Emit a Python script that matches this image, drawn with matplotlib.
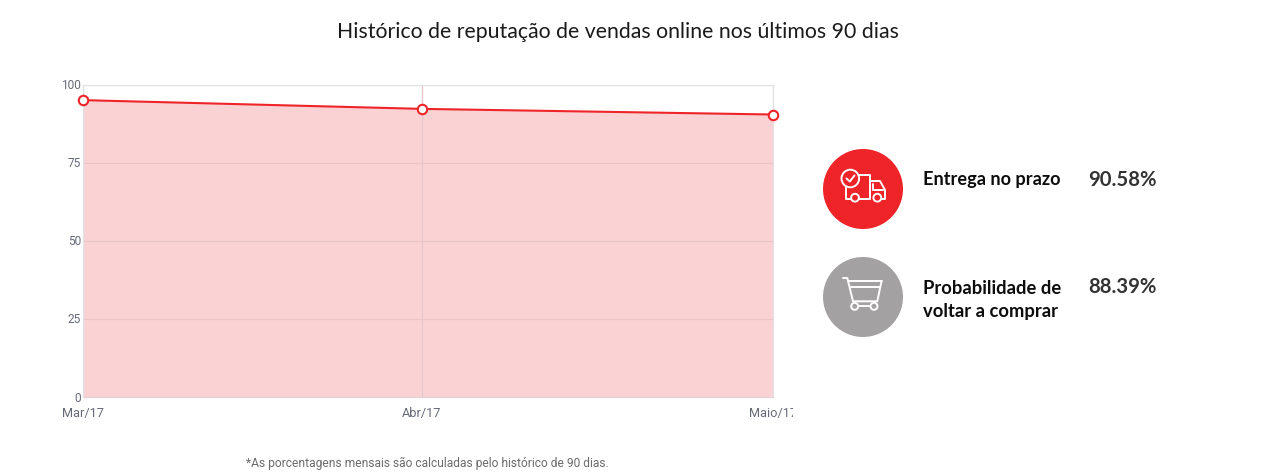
import matplotlib
matplotlib.use("Agg")
import matplotlib.pyplot as plt
from matplotlib.patches import Circle
from matplotlib.transforms import Bbox

W, H = 1264, 475

months = ["Mar/17", "Abr/17", "Maio/17"]
days = [0, 30, 61]
reputation = [95.0, 92.2, 90.4]
y_ticks = [0, 25, 50, 75, 100]
title = "Histórico de reputação de vendas online nos últimos 90 dias"
footnote = "*As porcentagens mensais são calculadas pelo histórico de 90 dias."
metric_labels = ["Entrega no prazo", "Probabilidade de\nvoltar a comprar"]
metric_values = ["90.58%", "88.39%"]

RED = "#ee2429"
GRAY = "#a3a1a2"

fig = plt.figure(figsize=(W / 100, H / 100), dpi=100, facecolor="white")

# chart axes
L, R, T, B = 82.5, 772.5, 84.5, 397
ax = fig.add_axes([L / W, 1 - B / H, (R - L) / W, (B - T) / H])
ax.set_xlim(days[0], days[-1])
ax.set_ylim(0, 100)
ax.fill_between(days, reputation, 0, color="#fad2d4", lw=0, zorder=1)
ax.set_yticks(y_ticks)
ax.set_xticks(days)
ax.grid(True, color="#e4e4e6", lw=0.9, zorder=0)
for yt in y_ticks[1:-1]:
    ax.axhline(yt, color="#eec3c6", lw=0.9, zorder=2)
ax.axvline(days[1], color="#e8c6cb", lw=0.9, zorder=2)
ax.plot(days, reputation, color=RED, lw=1.5, marker="o", ms=6.8, mfc="white",
        mec=RED, mew=1.5, clip_on=False, zorder=5)
for s, sp in ax.spines.items():
    sp.set_color("#e2e2e6")
    sp.set_linewidth(0.9)
ax.spines["bottom"].set_color("#e8d0d4")
ax.tick_params(length=0, pad=0)
ax.set_xticklabels([])
ax.set_yticklabels([])

# overlay in pixel coordinates for labels and icons
ov = fig.add_axes([0, 0, 1, 1], facecolor="none")
ov.set_xlim(0, W)
ov.set_ylim(H, 0)
ov.axis("off")

tick_color = "#666a78"
for v in y_ticks:
    yp = B - v * (B - T) / 100
    ov.text(81, yp + 1, str(v), ha="right", va="center", fontsize=8.6,
            family="Roboto", color=tick_color)
for d, m in zip(days, months):
    xp = L + (d - days[0]) * (R - L) / (days[-1] - days[0])
    t = ov.text(xp, 414, m, ha="center", va="center", fontsize=9.2,
                family="Roboto", color=tick_color)
    t.set_clip_box(Bbox([[0, 0], [793, H]]))
    t.set_clip_on(True)

ov.text(618, 32.5, title, ha="center", va="center", fontsize=15.3,
        family="Lato", color="#1a1a1a")
ov.text(427, 463, footnote, ha="center", va="center", fontsize=8.66,
        family="Roboto", color="#6b6b6b")

# circles
ov.add_patch(Circle((863, 189), 40, fc=RED, ec="none"))
ov.add_patch(Circle((863, 297), 40, fc=GRAY, ec="none"))

# truck icon
w = dict(color="white", lw=1.4, solid_capstyle="round", solid_joinstyle="round")
ov.plot([851, 870, 870, 859], [175, 175, 199, 199], **w)
ov.plot([846, 846, 851], [186, 199, 199], **w)
ov.plot([870, 880, 885, 885, 881], [181, 181, 190, 199, 199], **w)
ov.plot([873, 873, 883], [183.5, 190, 190], **w)
ov.add_patch(Circle((850.3, 178.5), 8.8, fc=RED, ec="white", lw=1.4, zorder=4))
ov.plot([846.5, 849.8, 854.5], [178.5, 181.5, 175.5], zorder=5, **w)
for cx in (855, 877.3):
    ov.add_patch(Circle((cx, 197.7), 3.9, fc=RED, ec="white", lw=1.4, zorder=4))

# cart icon
ov.plot([843, 847.3, 853, 877.3, 881.5], [278, 278, 301.3, 301.3, 281.3], **w)
ov.plot([848, 881.5], [281.3, 281.3], **w)
ov.plot([849.5, 880], [287.3, 287.3], **w)
ov.plot([858, 870.5], [306.3, 306.3], **w)
for cx in (854.7, 874):
    ov.add_patch(Circle((cx, 306.3), 3.5, fc=GRAY, ec="white", lw=1.4, zorder=4))

# metric text
ov.text(923, 180, metric_labels[0], ha="left", va="center", fontsize=13.1,
        family="Lato", weight="bold", color="#0c0c0c")
ov.text(923, 300, metric_labels[1], ha="left", va="center", fontsize=13.2,
        family="Lato", weight="bold", color="#0c0c0c", linespacing=1.42)
ov.text(1088, 180, metric_values[0], ha="left", va="center", fontsize=14.6,
        family="Lato", weight="bold", color="#333333")
ov.text(1088, 287, metric_values[1], ha="left", va="center", fontsize=14.6,
        family="Lato", weight="bold", color="#333333")

fig.savefig("out.png", dpi=100)
